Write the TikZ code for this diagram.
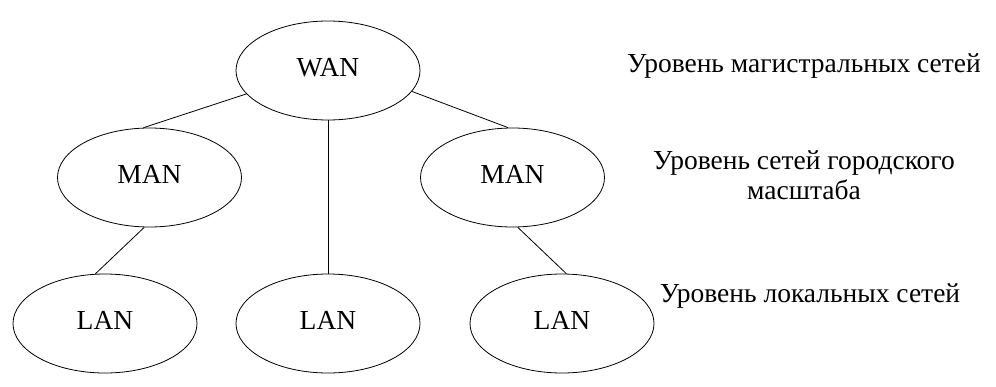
\documentclass[tikz,border=0pt]{standalone}
\usepackage{fontspec}
\setmainfont{Liberation Serif}
\usetikzlibrary{shapes.geometric}
\begin{document}
\begin{tikzpicture}[x=1pt,y=-1pt,
  net/.style={ellipse,draw,line width=0.8pt,minimum width=184pt,minimum height=99pt,inner sep=0pt,
    font=\fontsize{27.5}{30}\selectfont,text depth=7pt},
  lvl/.style={font=\fontsize{27.5}{30}\selectfont,align=center,inner sep=0pt},
  link/.style={line width=0.8pt}]
\useasboundingbox (0,0) rectangle (996,386);
\node[net] (wan) at (328,70.5) {WAN};
\node[net] (lman) at (149.5,177.5) {MAN};
\node[net] (rman) at (512.5,177.5) {MAN};
\node[net] (llan) at (105,323.5) {LAN};
\node[net] (mlan) at (328,323.5) {LAN};
\node[net] (rlan) at (562,323.5) {LAN};
\node[lvl,anchor=base] (l1) at (804,72) {Уровень магистральных сетей};
\node[lvl] (l2) at (804,175) {Уровень сетей городского\\масштаба};
\node[lvl,anchor=base] (l3) at (810,302) {Уровень локальных сетей};
\draw[link] (wan.196) -- (lman.97);
\draw[link] (wan.south) -- (mlan.north);
\draw[link] (wan.346) -- (rman.95);
\draw[link] (lman.264) -- (llan.101);
\draw[link] (rman.276) -- (rlan.85);
\end{tikzpicture}
\end{document}
